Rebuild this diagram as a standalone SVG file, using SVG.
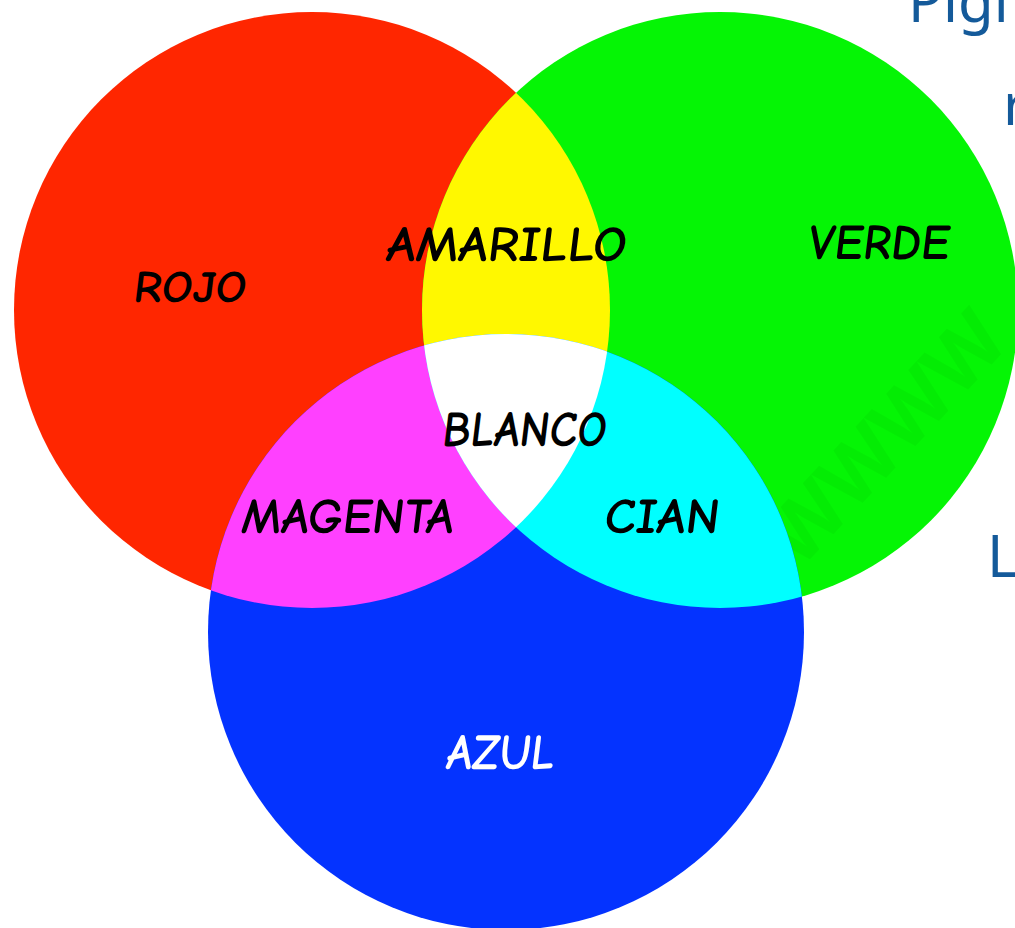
<svg xmlns="http://www.w3.org/2000/svg" width="1015" height="928" viewBox="0 0 1015 928">
<style>
.lbl{font-family:"Comic Sans MS","Comic Neue","Noto Sans","DejaVu Sans",sans-serif;font-weight:bold;font-size:50px;fill:#000;}
.side{font-family:"Noto Sans","DejaVu Sans",sans-serif;font-size:58px;fill:#145a9a;}
</style>
<defs>
<clipPath id="cR"><circle cx="312" cy="310" r="298"/></clipPath>
<clipPath id="cG"><circle cx="720" cy="310" r="298"/></clipPath>
</defs>
<rect width="1015" height="928" fill="#ffffff"/>
<g id="side-text">
<text class="side" x="908" y="22">Pigi</text>
<text class="side" x="1003" y="125">r</text>
<text class="side" x="987" y="577">L</text>
</g>
<g id="rojo">
<circle cx="312" cy="310" r="298" fill="#ff2600"/>
</g>
<g id="verde">
<circle cx="720" cy="310" r="298" fill="#05f505"/>
<text x="0" y="0" font-family="Noto Sans, sans-serif" font-weight="bold" font-size="80" fill="#000" fill-opacity="0.035" transform="translate(800,570) rotate(-47)">WWWW</text>
</g>
<g id="azul">
<circle cx="506" cy="632" r="298" fill="#0433ff"/>
</g>
<g id="amarillo">
<circle cx="720" cy="310" r="298" fill="#fff800" clip-path="url(#cR)"/>
</g>
<g id="magenta">
<circle cx="506" cy="632" r="298" fill="#ff40ff" clip-path="url(#cR)"/>
</g>
<g id="cian">
<circle cx="506" cy="632" r="298" fill="#00ffff" clip-path="url(#cG)"/>
</g>
<g id="blanco" clip-path="url(#cR)">
<circle cx="506" cy="632" r="298" fill="#ffffff" clip-path="url(#cG)"/>
</g>
<g id="labels">
<text class="lbl" transform="translate(132,302) skewX(-7)" style="font-size:45px" textLength="113" lengthAdjust="spacingAndGlyphs">ROJO</text>
<text class="lbl" transform="translate(385,261) skewX(-7)" textLength="240" lengthAdjust="spacingAndGlyphs">AMARILLO</text>
<text class="lbl" transform="translate(807,259) skewX(-7)" textLength="141" lengthAdjust="spacingAndGlyphs">VERDE</text>
<text class="lbl" transform="translate(441,446) skewX(-7)" textLength="164" lengthAdjust="spacingAndGlyphs">BLANCO</text>
<text class="lbl" transform="translate(240,533) skewX(-7)" textLength="212" lengthAdjust="spacingAndGlyphs">MAGENTA</text>
<text class="lbl" transform="translate(603,533) skewX(-7)" textLength="115" lengthAdjust="spacingAndGlyphs">CIAN</text>
<text class="lbl" transform="translate(445,769) skewX(-7)" textLength="108" lengthAdjust="spacingAndGlyphs" style="fill:#ffffff">AZUL</text>
</g>
</svg>
